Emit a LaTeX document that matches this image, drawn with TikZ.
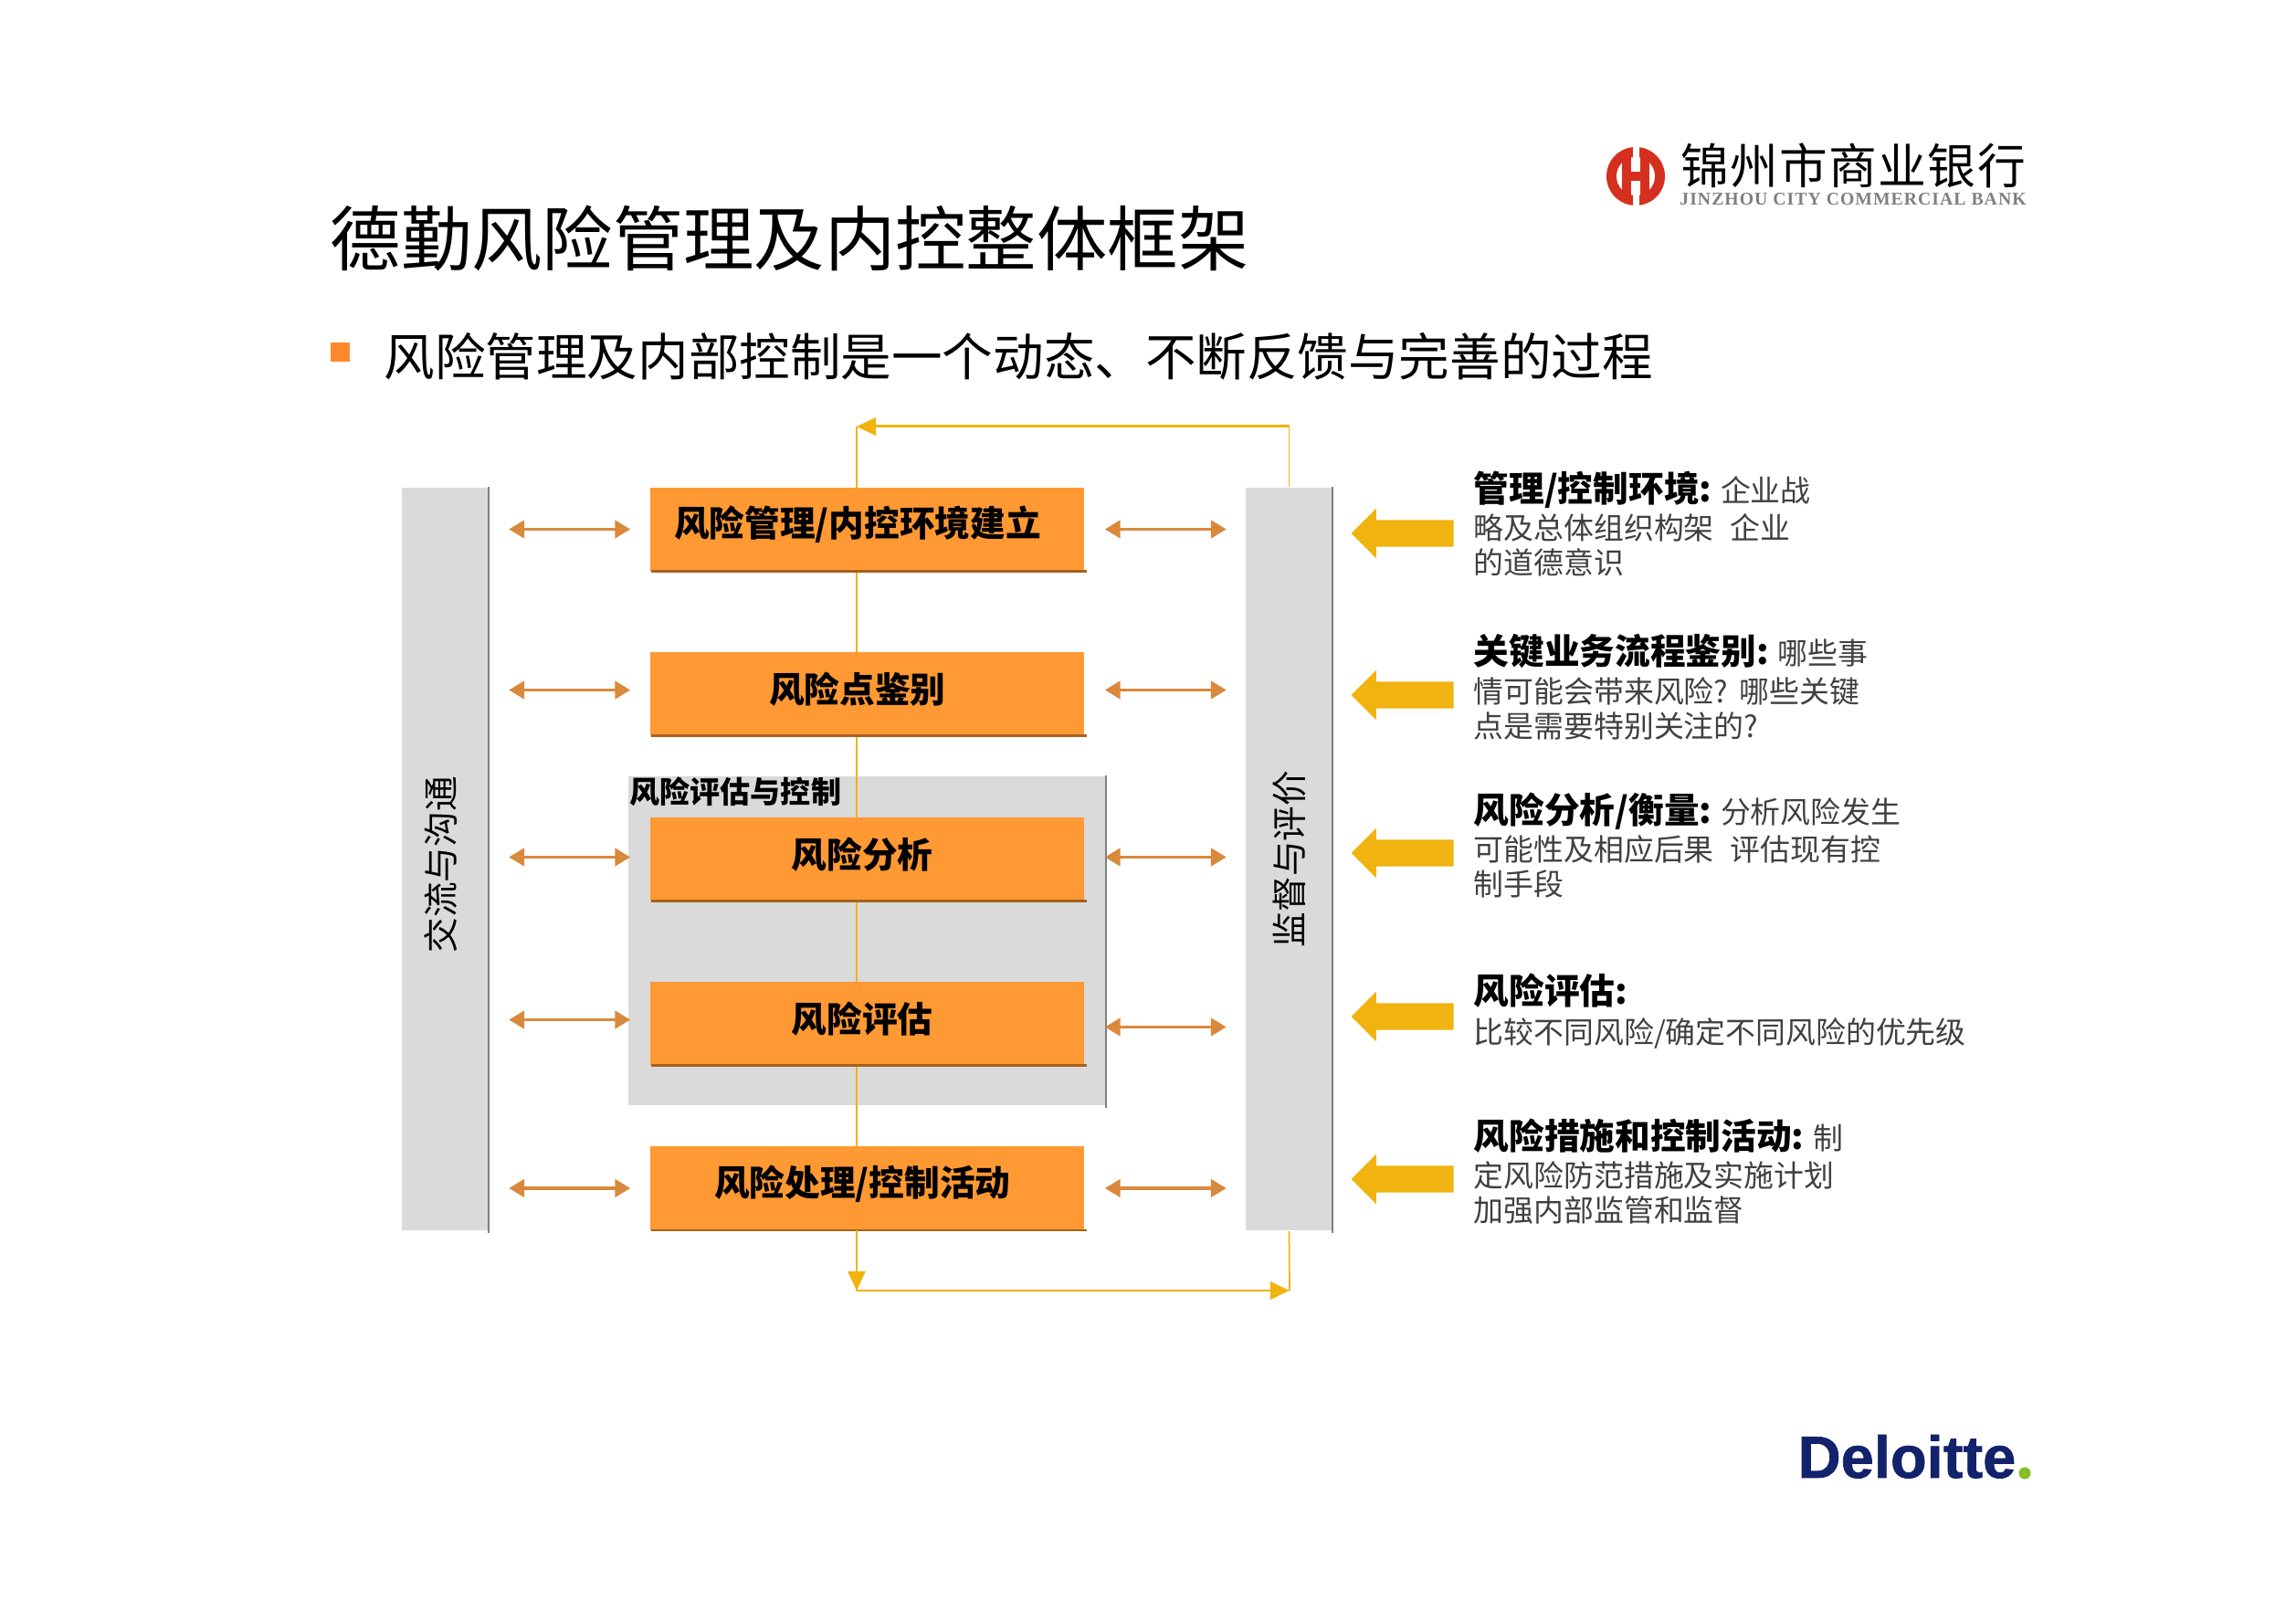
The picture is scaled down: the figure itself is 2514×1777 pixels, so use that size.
\documentclass[tikz,border=0pt]{standalone}
\usepackage{fontspec}
\setmainfont{Noto Sans CJK SC}
\newfontfamily\latinserif{Liberation Serif}
\newfontfamily\delfont[UprightFont={* Bold},FakeBold=1]{Liberation Sans}
\usetikzlibrary{arrows.meta,shapes.arrows}
\definecolor{riskorange}{HTML}{FF9933}
\definecolor{boxedge}{HTML}{A8601C}
\definecolor{panelgray}{HTML}{DADADA}
\definecolor{edgegray}{HTML}{7F7F7F}
\definecolor{linkgold}{HTML}{F0B30F}
\definecolor{linkbrown}{HTML}{D9893C}
\definecolor{bodygray}{HTML}{404040}
\definecolor{bankred}{HTML}{D5301F}
\definecolor{delnavy}{HTML}{12226B}
\definecolor{delgreen}{HTML}{86BC25}
\tikzset{
	riskbox/.style={fill=riskorange, minimum width=4.75cm, minimum height=0.91cm, inner sep=0pt, font=\fontsize{11}{13}\selectfont\bfseries},
	boxline/.style={boxedge, line width=0.7pt},
	sidebar/.style={fill=panelgray, rotate=90, minimum width=8.13cm, minimum height=0.94cm, inner sep=0pt, font=\fontsize{11}{13}\selectfont},
	edgeline/.style={edgegray, line width=0.45pt},
	dblarrow/.style={linkbrown, line width=1pt, {Triangle[length=4.8pt,width=5.5pt]}-{Triangle[length=4.8pt,width=5.5pt]}, shorten <=0.22cm, shorten >=0.21cm},
	goldline/.style={linkgold, line width=0.5pt},
	goldarrow/.style={single arrow, shape border rotate=180, fill=linkgold, minimum height=1.12cm, minimum width=0.53cm, single arrow head extend=0.125cm, inner xsep=0pt, inner ysep=0.14cm},
	notetext/.style={anchor=north west, inner sep=0pt, align=left, text=bodygray, font=\fontsize{9.35}{10.8}\selectfont},
}
\newcommand{\notehead}[1]{{\color{black}\fontsize{11}{13}\selectfont\bfseries #1}}
\newcommand{\boxtext}[2]{\hspace*{#1}\raisebox{1.4pt}[\height][\depth]{#2}}
\begin{document}
\begin{tikzpicture}[x=0.01cm, y=-0.01cm]
	\useasboundingbox (0, 0) rectangle (2514, 1777);

	\node[anchor=west, inner sep=0pt, font=\fontsize{22}{26}\selectfont] (title) at (361, 261) {德勤风险管理及内控整体框架};
	\node[fill=riskorange!90!red, minimum size=0.21cm, inner sep=0pt] (bullet) at (372.5, 385.5) {};
	\node[anchor=west, inner sep=0pt, font=\fontsize{15.8}{19}\selectfont] (subtitle) at (420, 390) {风险管理及内部控制是一个动态、不断反馈与完善的过程};

	\fill[bankred] (1791, 193) circle (32);
	\fill[white] (1791, 193) circle (21);
	\fill[white] (1787.5, 155) rectangle (1794.5, 231);
	\fill[bankred] (1776, 168) rectangle (1786, 218);
	\fill[bankred] (1796, 168) rectangle (1806, 218);
	\fill[bankred] (1776, 188) rectangle (1806, 198);
	\node[inner sep=0pt, font=\fontsize{15}{18}\selectfont] (bankname) at (2029, 181) {锦\kern.4pt 州\kern.4pt 市\kern.4pt 商\kern.4pt 业\kern.4pt 银\kern.4pt 行};
	\node[inner sep=0pt, text=edgegray, font=\fontsize{5.6}{7}\selectfont\latinserif\bfseries] (banklatin) at (2029, 218) {J\kern.3pt I\kern.3pt N\kern.3pt Z\kern.3pt H\kern.3pt O\kern.3pt U\kern.3pt\ C\kern.3pt I\kern.3pt T\kern.3pt Y\kern.3pt\ C\kern.3pt O\kern.3pt M\kern.3pt M\kern.3pt E\kern.3pt R\kern.3pt C\kern.3pt I\kern.3pt A\kern.3pt L\kern.3pt\ B\kern.3pt A\kern.3pt N\kern.3pt K};

	\node[fill=panelgray, minimum width=5.22cm, minimum height=3.6cm, inner sep=0pt] (assesspanel) at (949, 1030) {};
	\draw[edgeline] (assesspanel.north east) -- ([yshift=-0.02cm]assesspanel.south east);
	\node[anchor=west, inner sep=0pt, font=\fontsize{9.4}{11}\selectfont\bfseries] (assesslabel) at (689, 867) {风险评估与控制};

	\node[sidebar] (commbar) at (487.5, 940.5) {\boxtext{-3.6pt}{交流与沟通}};
	\node[sidebar] (monitorbar) at (1411.5, 940.5) {监督与评价};
	\draw[edgeline] (commbar.south east) -- ([yshift=-0.02cm]commbar.south west);
	\draw[edgeline] (monitorbar.south east) -- ([yshift=-0.02cm]monitorbar.south west);

	\coordinate (topjoin) at (938, 467);
	\coordinate (lowjoin) at (938, 1413);
	\coordinate (lowcorner) at (1412, 1413);
	\draw[goldline] (topjoin) -- (lowjoin);

	\node[riskbox] (boxenv) at (949.5, 579.5) {\boxtext{-6pt}{风险管理/内控环境建立}};
	\node[riskbox] (boxident) at (949.5, 759.5) {\boxtext{-6pt}{风险点鉴别}};
	\node[riskbox] (boxanalyse) at (949.5, 940.5) {\boxtext{-3pt}{风险分析}};
	\node[riskbox] (boxassess) at (949.5, 1120.5) {\boxtext{-3pt}{风险评估}};
	\node[riskbox] (boxtreat) at (949.5, 1301) {\boxtext{-3pt}{风险处理/控制活动}};
	\draw[boxline] ([xshift=0.02cm]boxenv.south west) -- ([xshift=0.02cm]boxenv.south east);
	\draw[boxline] ([xshift=0.02cm]boxident.south west) -- ([xshift=0.02cm]boxident.south east);
	\draw[boxline] ([xshift=0.02cm]boxanalyse.south west) -- ([xshift=0.02cm]boxanalyse.south east);
	\draw[boxline] ([xshift=0.02cm]boxassess.south west) -- ([xshift=0.02cm]boxassess.south east);
	\draw[boxline] ([xshift=0.02cm]boxtreat.south west) -- ([xshift=0.02cm]boxtreat.south east);

	\draw[linkgold, line width=0.85pt, -{Triangle[length=6pt,width=5.5pt]}] (monitorbar.east |- topjoin) -- (topjoin);
	\draw[goldline] (monitorbar.east) -- (monitorbar.east |- topjoin);
	\draw[goldline] (monitorbar.west) -- (lowcorner);
	\draw[linkgold, line width=0.85pt, -{Triangle[length=6pt,width=5.5pt]}] (lowjoin) -- (lowcorner);
	\draw[linkgold, line width=0.5pt, -{Triangle[length=6pt,width=5.5pt]}] (boxtreat.south -| lowjoin) -- (lowjoin);

	\draw[dblarrow] (commbar.south |- boxenv.west) -- (boxenv.west);
	\draw[dblarrow] ([yshift=0.04cm]commbar.south |- boxident.west) -- ([yshift=0.04cm]boxident.west);
	\draw[dblarrow] ([yshift=0.02cm]commbar.south |- boxanalyse.west) -- ([yshift=0.02cm]boxanalyse.west);
	\draw[dblarrow] ([yshift=0.04cm]commbar.south |- boxassess.west) -- ([yshift=0.04cm]boxassess.west);
	\draw[dblarrow] (commbar.south |- boxtreat.west) -- (boxtreat.west);
	\draw[dblarrow] (boxenv.east) -- (monitorbar.north |- boxenv.east);
	\draw[dblarrow] ([yshift=0.04cm]boxident.east) -- ([yshift=0.04cm]monitorbar.north |- boxident.east);
	\draw[dblarrow] ([yshift=0.02cm]boxanalyse.east) -- ([yshift=0.02cm]monitorbar.north |- boxanalyse.east);
	\draw[dblarrow] ([yshift=-0.04cm]boxassess.east) -- ([yshift=-0.04cm]monitorbar.north |- boxassess.east);
	\draw[dblarrow] (boxtreat.east) -- (monitorbar.north |- boxtreat.east);

	\node[goldarrow] (envarrow) at (1543, 584) {};
	\node[goldarrow] (identarrow) at (1543, 761) {};
	\node[goldarrow] (analysearrow) at (1543, 934) {};
	\node[goldarrow] (assessarrow) at (1543, 1113) {};
	\node[goldarrow] (treatarrow) at (1543, 1291) {};

	\node[notetext] (envnote) at (1613, 515) {\notehead{管理/控制环境:} 企业战\\[1pt]略及总体组织构架\ \ \kern1pt 企业\\的道德意识};
	\node[notetext] (identnote) at (1613, 694) {\notehead{关键业务流程鉴别:} 哪些事\\[1pt]情可能会带来风险?\kern1.5pt\ 哪些关键\\点是需要特别关注的?};
	\node[notetext] (analysenote) at (1613, 867) {\notehead{风险分析/衡量:} 分析风险发生\\[1pt]可能性及相应后果\ \ \kern1pt 评估现有控\\制手段};
	\node[notetext] (assessnote) at (1613, 1065) {\notehead{风险评估:}\\[1.5pt]比较不同风险/确定不同风险的优先级};
	\node[notetext] (treatnote) at (1613, 1224) {\notehead{风险措施和控制活动:} 制\\[1pt]定风险防范措施及实施计划\\加强内部监管和监督};

	\node[anchor=base west, inner sep=0pt, text=delnavy, font=\fontsize{18.5}{22}\selectfont\delfont] (deloitte) at (1968, 1618) {Deloitte};
	\node[circle, fill=delgreen, minimum size=0.13cm, inner sep=0pt] (deldot) at (2217, 1613) {};
\end{tikzpicture}
\end{document}
